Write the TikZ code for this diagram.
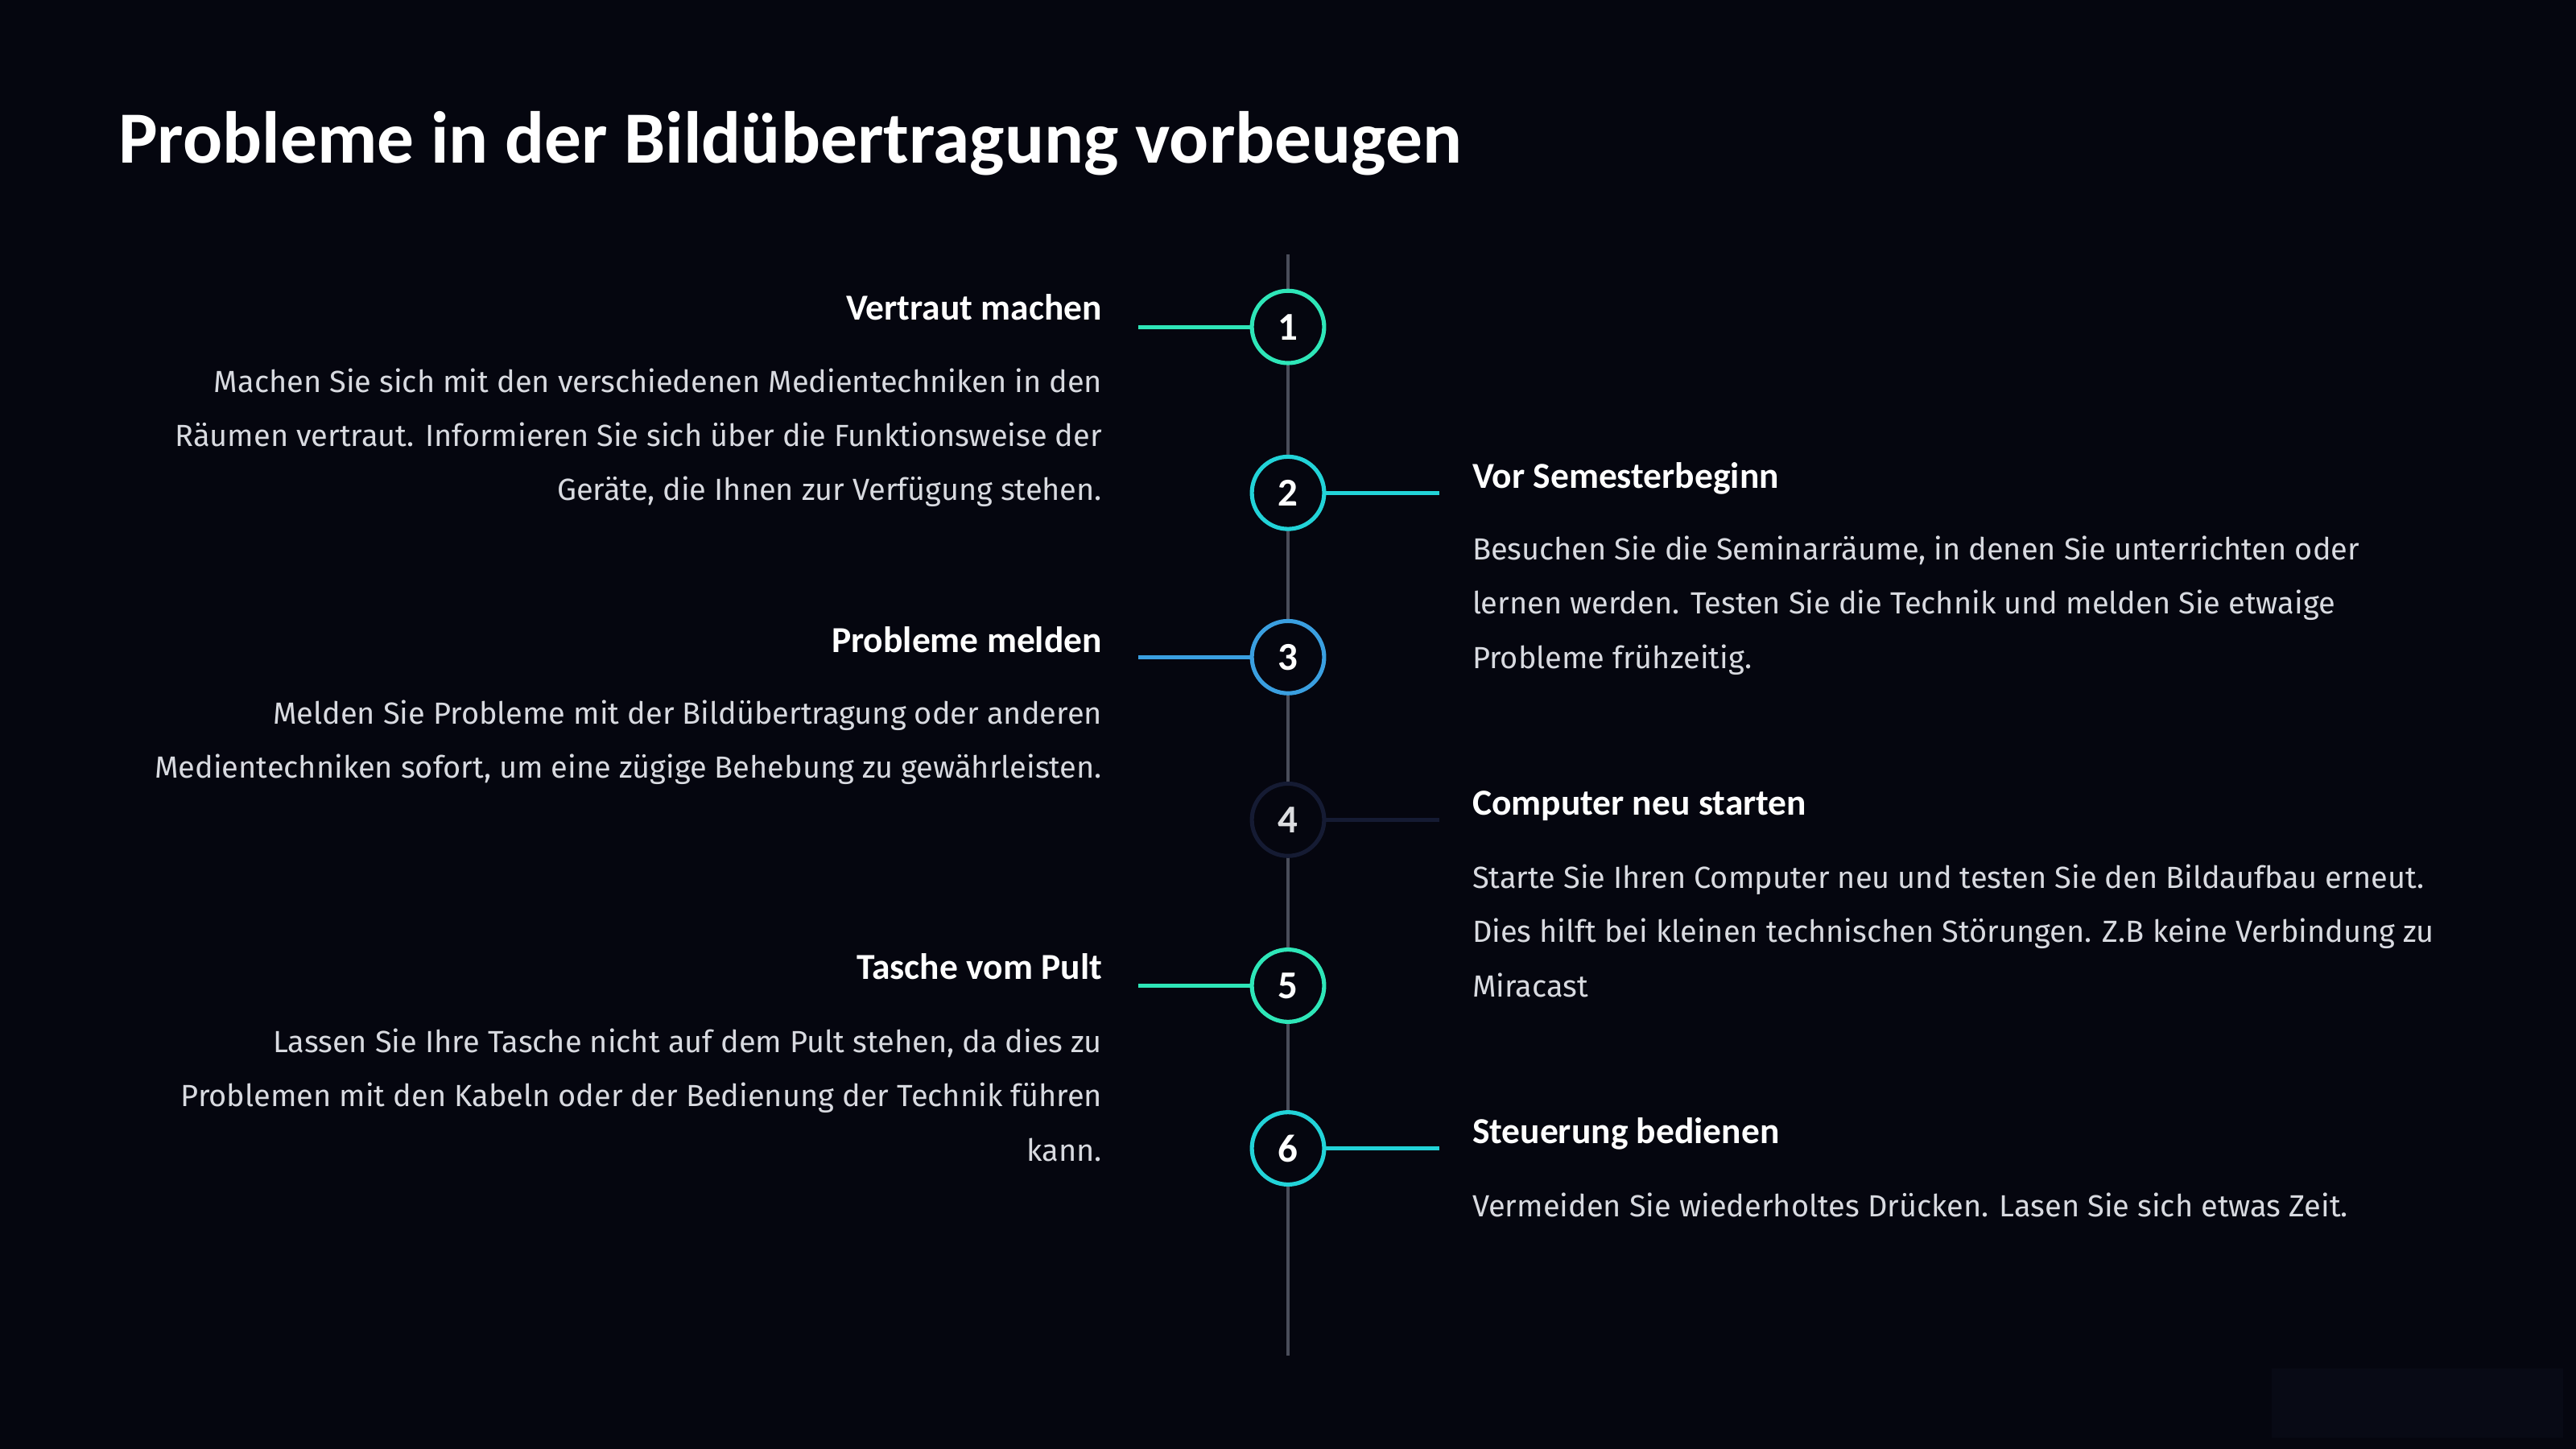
\documentclass[tikz,border=0pt]{standalone}
\usepackage{fontspec}
\setmainfont{Fira Sans}
\newfontfamily\headfont{Carlito}
\definecolor{bg}{HTML}{05060F}
\definecolor{cgreen}{HTML}{2EE6B8}
\definecolor{cteal}{HTML}{22D3D8}
\definecolor{cblue}{HTML}{3A9FE0}
\definecolor{cdark}{HTML}{151B33}
\definecolor{vline}{HTML}{4A4D5A}
\definecolor{body}{HTML}{D8DAE0}
\begin{document}
\begin{tikzpicture}[x=1pt,y=-1pt,
  num/.style={circle,minimum size=44pt,inner sep=0pt,line width=2.5pt,fill=bg,text=white,font=\headfont\bfseries\fontsize{24}{26}\selectfont},
  hd/.style={text=white,font=\headfont\bfseries\fontsize{22.3}{24}\selectfont,inner sep=0pt},
  bl/.style={text=body,font=\fontsize{18.6}{33}\selectfont,inner sep=0pt,align=left},
  br/.style={text=body,font=\fontsize{18.6}{33}\selectfont,inner sep=0pt,align=right},
  conn/.style={line width=2.5pt}]
\fill[bg] (0,0) rectangle (1568,882);
\fill[cdark!18!bg] (1383,833) rectangle (1560,875);
\coordinate (top) at (784,155);
\coordinate (bot) at (784,825);
\draw[vline,line width=2pt] (top) -- (bot);
\node[hd,anchor=base west] (title) at (72,99) {\fontsize{44.8}{48}\selectfont Probleme in der Bildübertragung vorbeugen};
% nodes
\node[num,draw=cgreen] (n1) at (784,199) {1};
\node[num,draw=cteal] (n2) at (784,300) {2};
\node[num,draw=cblue] (n3) at (784,400) {3};
\node[num,draw=cdark,text=white!85!cdark] (n4) at (784,499) {4};
\node[num,draw=cgreen] (n5) at (784,600) {5};
\node[num,draw=cteal] (n6) at (784,699) {6};
\coordinate (l1) at (693,199); \coordinate (r2) at (876,300);
\coordinate (l3) at (693,400); \coordinate (r4) at (876,499);
\coordinate (l5) at (693,600); \coordinate (r6) at (876,699);
\draw[conn,cgreen] (l1) -- (n1);
\draw[conn,cteal] (n2) -- (r2);
\draw[conn,cblue] (l3) -- (n3);
\draw[conn,cdark] (n4) -- (r4);
\draw[conn,cgreen] (l5) -- (n5);
\draw[conn,cteal] (n6) -- (r6);
% left texts
\node[hd,anchor=base east] (h1) at (671,195) {Vertraut machen};
\node[br,anchor=north east] (t1) at (671,224) {Machen Sie sich mit den verschiedenen Medientechniken in den\\Räumen vertraut. Informieren Sie sich über die Funktionsweise der\\Geräte, die Ihnen zur Verfügung stehen.};
\node[hd,anchor=base east] (h3) at (671,397) {Probleme melden};
\node[br,anchor=north east] (t3) at (671,426) {Melden Sie Probleme mit der Bildübertragung oder anderen\\Medientechniken sofort, um eine zügige Behebung zu gewährleisten.};
\node[hd,anchor=base east] (h5) at (671,596) {Tasche vom Pult};
\node[br,anchor=north east] (t5) at (671,626) {Lassen Sie Ihre Tasche nicht auf dem Pult stehen, da dies zu\\Problemen mit den Kabeln oder der Bedienung der Technik führen\\kann.};
% right texts
\node[hd,anchor=base west] (h2) at (896,297) {Vor Semesterbeginn};
\node[bl,anchor=north west] (t2) at (896,326) {Besuchen Sie die Seminarräume, in denen Sie unterrichten oder\\lernen werden. Testen Sie die Technik und melden Sie etwaige\\Probleme frühzeitig.};
\node[hd,anchor=base west] (h4) at (896,496) {Computer neu starten};
\node[bl,anchor=north west] (t4) at (896,526) {Starte Sie Ihren Computer neu und testen Sie den Bildaufbau erneut.\\Dies hilft bei kleinen technischen Störungen. Z.B keine Verbindung zu\\Miracast};
\node[hd,anchor=base west] (h6) at (896,696) {Steuerung bedienen};
\node[bl,anchor=north west] (t6) at (896,726) {Vermeiden Sie wiederholtes Drücken. Lasen Sie sich etwas Zeit.};
\end{tikzpicture}
\end{document}
